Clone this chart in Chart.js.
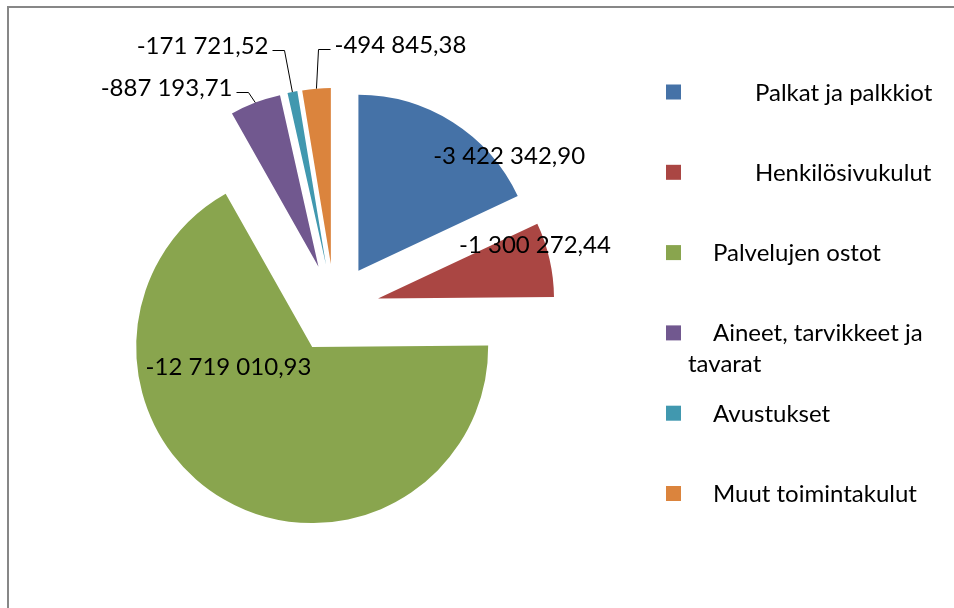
<!DOCTYPE html>
<html>
<head>
<meta charset="utf-8">
<script src="https://cdn.jsdelivr.net/npm/chart.js@4.4.0/dist/chart.umd.min.js"></script>
<style>
  html, body { margin: 0; padding: 0; background: #fff; }
  #wrap { position: relative; width: 954px; height: 608px; overflow: hidden; }
  #frame { position: absolute; left: 7px; top: 6px; width: 1000px; height: 700px;
           border-top: 2px solid #878787; border-left: 2px solid #878787; }
  #chartBox { position: absolute; left: 0; top: 0; width: 954px; height: 608px; }
</style>
</head>
<body>
<div id="wrap">
  <div id="frame"></div>
  <div id="chartBox"><canvas id="costChart"></canvas></div>
</div>
<script>
// Data
const categories = ['Palkat ja palkkiot', 'Henkilösivukulut', 'Palvelujen ostot',
                    'Aineet, tarvikkeet ja tavarat', 'Avustukset', 'Muut toimintakulut'];
const expenses = [-3422342.90, -1300272.44, -12719010.93, -887193.71, -171721.52, -494845.38];
const sliceColors = ['#4572A7', '#AA4643', '#89A54E', '#71588F', '#4198AF', '#DB843D'];

// Layout (pixels)
const EXPLODE = 44.6;
const FONT = '24px Lato, "Open Sans", sans-serif';
const CAP = 17;

// how each value label is placed: inside ones by angle (deg, clockwise from top) and distance
// from the slice tip, outside ones by elbow offset from the slice's outer midpoint
const labelLayout = [
    { inside: true, angle: 52.5, dist: 190 },
    { inside: true, angle: 71, dist: 166 },
    { inside: true, angle: 256.7, dist: 86 },
    { inside: false, dx: -7, dy: -11, side: -1 },
    { inside: false, dx: -8, dy: -42, side: -1 },
    { inside: false, dx: 2, dy: -40, side: 1 }
];

// legend rows
const legendLines = [['Palkat ja palkkiot'], ['Henkilösivukulut'], ['Palvelujen ostot'],
                     ['Aineet, tarvikkeet ja', 'tavarat'], ['Avustukset'], ['Muut toimintakulut']];
const legendTextX = [755, 755, 713, 713, 713, 713];
const legendWrapX = 688;

// Format like Finnish Excel: "-3 422 342,90"
function fiNumber(v) {
    const sign = v < 0 ? '-' : '';
    const parts = Math.abs(v).toFixed(2).split('.');
    return sign + parts[0].replace(/\B(?=(\d{3})+(?!\d))/g, ' ') + ',' + parts[1];
}

function sliceGeometry(arc) {
    const mid = (arc.startAngle + arc.endAngle) / 2;
    const tipX = arc.x + Math.cos(mid) * EXPLODE;
    const tipY = arc.y + Math.sin(mid) * EXPLODE;
    return { mid, tipX, tipY, r: arc.outerRadius };
}

// Draw every slice pulled out from the centre (Excel style explode, no radius growth)
const explodePlugin = {
    id: 'explode',
    beforeDatasetDraw(chart, args) {
        const ctx = chart.ctx;
        args.meta.data.forEach(arc => {
            const mid = (arc.startAngle + arc.endAngle) / 2;
            ctx.save();
            ctx.translate(Math.cos(mid) * EXPLODE, Math.sin(mid) * EXPLODE);
            arc.draw(ctx);
            ctx.restore();
        });
        return false;
    }
};

const valueLabelPlugin = {
    id: 'valueLabels',
    afterDatasetsDraw(chart) {
        const ctx = chart.ctx;
        const meta = chart.getDatasetMeta(0);
        const values = chart.data.datasets[0].data;
        ctx.save();
        ctx.font = FONT;
        ctx.fillStyle = '#000';
        ctx.strokeStyle = '#000';
        ctx.lineWidth = 1;
        ctx.textBaseline = 'alphabetic';
        meta.data.forEach((arc, i) => {
            const g = sliceGeometry(arc);
            const lay = labelLayout[i];
            const text = fiNumber(values[i]);
            if (lay.inside) {
                const a = lay.angle * Math.PI / 180 - Math.PI / 2;
                const x = g.tipX + Math.cos(a) * lay.dist;
                const y = g.tipY + Math.sin(a) * lay.dist;
                ctx.textAlign = 'center';
                ctx.fillText(text, x, y + CAP / 2);
            } else {
                const ox = g.tipX + Math.cos(g.mid) * g.r;
                const oy = g.tipY + Math.sin(g.mid) * g.r;
                const ex = Math.round(ox + lay.dx) + 0.5;
                const ey = Math.round(oy + lay.dy) + 0.5;
                const hx = ex + lay.side * 12;
                ctx.beginPath();
                ctx.moveTo(ox, oy);
                ctx.lineTo(ex, ey);
                ctx.lineTo(hx, ey);
                ctx.stroke();
                ctx.textAlign = lay.side < 0 ? 'right' : 'left';
                ctx.fillText(text, hx + lay.side * 4, ey + 3);
            }
        });
        ctx.restore();
    }
};

const sideLegendPlugin = {
    id: 'sideLegend',
    afterDraw(chart) {
        const ctx = chart.ctx;
        const colors = chart.data.datasets[0].backgroundColor;
        ctx.save();
        ctx.font = FONT;
        ctx.fillStyle = '#000';
        ctx.textAlign = 'left';
        ctx.textBaseline = 'alphabetic';
        legendLines.forEach((lines, i) => {
            const cy = 92 + i * 80.3;
            ctx.fillStyle = colors[i];
            ctx.fillRect(666, cy - 7.5, 15, 15);
            ctx.fillStyle = '#000';
            lines.forEach((line, j) => {
                const x = j === 0 ? legendTextX[i] : legendWrapX;
                ctx.fillText(line, x, cy + CAP / 2 + j * 30.7);
            });
        });
        ctx.restore();
    }
};

const costCtx = document.getElementById('costChart').getContext('2d');
const costChart = new Chart(costCtx, {
    type: 'pie',
    data: {
        labels: categories,
        datasets: [{
            data: expenses,
            backgroundColor: sliceColors,
            borderWidth: 0,
            radius: 176
        }]
    },
    options: {
        responsive: true,
        maintainAspectRatio: false,
        animation: false,
        events: [],
        layout: { padding: { left: 0, right: 285, top: 9, bottom: 0 } },
        plugins: {
            legend: { display: false },
            tooltip: { enabled: false }
        }
    },
    plugins: [explodePlugin, valueLabelPlugin, sideLegendPlugin]
});
</script>
</body>
</html>
